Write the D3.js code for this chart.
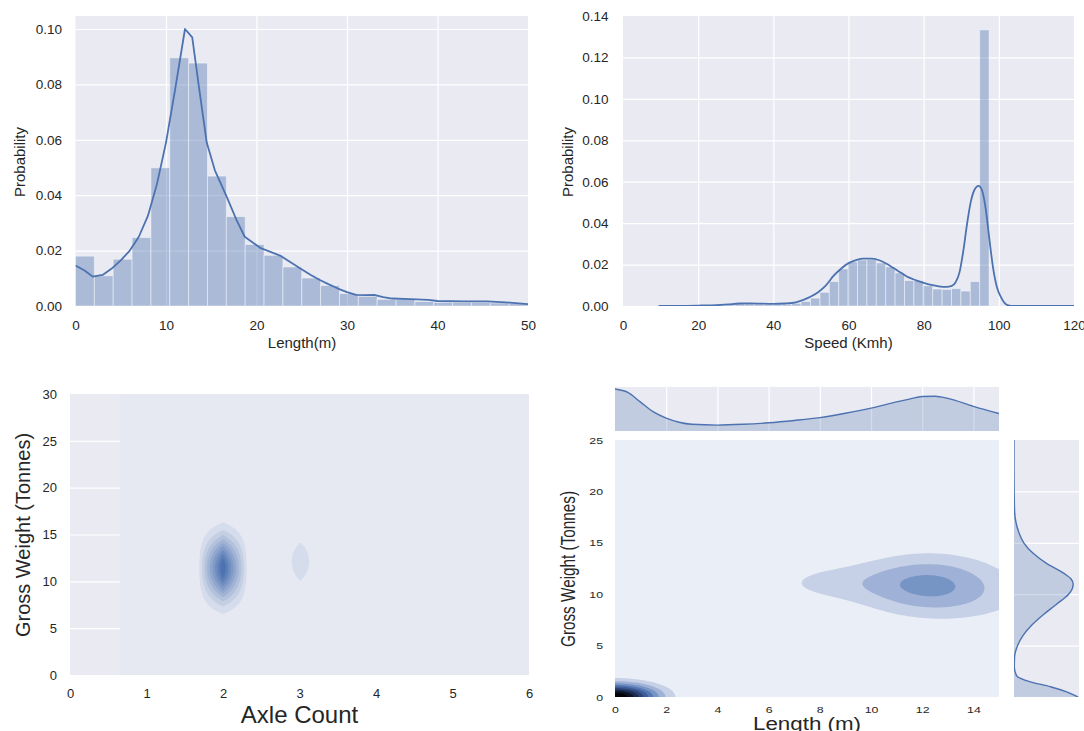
<!DOCTYPE html>
<html>
<head>
<meta charset="utf-8">
<script src="https://cdn.jsdelivr.net/npm/d3@7"></script>
<style>
  body { margin: 0; background: #fff; }
  svg { display: block; }
</style>
</head>
<body>
<script>
// ---------------- data ----------------
// Vehicle length histogram: 24 equal bins over 0..50 m (probability density)
const lengthBinWidth = 50 / 24;
const lengthHist = [0.0180, 0.0109, 0.0169, 0.0247, 0.0499, 0.0896, 0.0877, 0.0469,
  0.0323, 0.0222, 0.0183, 0.0141, 0.0101, 0.0074, 0.0045, 0.0035, 0.0024, 0.0024,
  0.0016, 0.0013, 0.0013, 0.0013, 0.0011, 0.0010];
// Kernel density estimate of length: [m, density]
const lengthKde = [[0, 0.0146], [1, 0.0128], [1.9, 0.0106], [3, 0.0112], [4, 0.0135], [5, 0.0165],
  [6, 0.0200], [7, 0.0250], [8, 0.0325], [9, 0.0440], [10, 0.0590], [11, 0.0780], [12.1, 0.1000],
  [12.9, 0.0970], [13.6, 0.0800], [14.5, 0.0590], [15.4, 0.0490], [16.7, 0.0395], [17.8, 0.0310],
  [18.7, 0.0250], [20.4, 0.0210], [22.6, 0.0182], [24.8, 0.0136], [26, 0.0112], [27, 0.0094],
  [28, 0.0078], [29, 0.0063], [30, 0.0050], [31, 0.0040], [32, 0.0039], [33, 0.0040], [34, 0.0032],
  [35, 0.0027], [37, 0.0025], [39, 0.0022], [40, 0.0018], [43, 0.0017], [45.5, 0.0017],
  [48, 0.0012], [50, 0.0007]];
const lengthTicksX = [0, 10, 20, 30, 40, 50];
const lengthTicksY = [0, 0.02, 0.04, 0.06, 0.08, 0.10];

// Speed histogram: 35 bins of 2.5 km/h starting at 9.9 km/h
const speedBinStart = 9.9;
const speedBinWidth = 2.5;
const speedHist = [0.0001, 0.0000, 0.0001, 0.0001, 0.0001, 0.0002, 0.0003, 0.0006, 0.0010,
  0.0011, 0.0009, 0.0007, 0.0007, 0.0009, 0.0013, 0.0022, 0.0038, 0.0066, 0.0118, 0.0179,
  0.0213, 0.0222, 0.0224, 0.0208, 0.0189, 0.0160, 0.0123, 0.0123, 0.0098, 0.0082, 0.0080,
  0.0084, 0.0072, 0.0118, 0.1333];
// Kernel density estimate of speed: [km/h, density]
const speedKde = [[9.5, 0.0001], [15, 0.0001], [20, 0.0002], [25, 0.0004], [28, 0.0008],
  [31, 0.0012], [34, 0.0013], [37, 0.0011], [40, 0.0010], [43, 0.0012], [46, 0.0018], [48, 0.0030],
  [50, 0.0046], [52, 0.0068], [54, 0.0100], [56, 0.0145], [58, 0.0180], [60, 0.0207], [62, 0.0222],
  [64, 0.0229], [66, 0.0229], [68, 0.0222], [70, 0.0205], [72, 0.0183], [74, 0.0160], [76, 0.0138],
  [78, 0.0124], [80, 0.0112], [82, 0.0102], [84, 0.0095], [86, 0.0092], [87.5, 0.0097],
  [88.5, 0.0115], [89.5, 0.0160], [90.5, 0.0260], [91.5, 0.0390], [92.5, 0.0500], [93.5, 0.0560],
  [94.6, 0.0580], [95.5, 0.0560], [96.5, 0.0470], [97.5, 0.0320], [98.5, 0.0180], [99.5, 0.0090],
  [100.5, 0.0045], [101.5, 0.0015], [102.5, 0.0003], [104, 0], [120, 0]];
const speedTicksX = [0, 20, 40, 60, 80, 100, 120];
const speedTicksY = [0, 0.02, 0.04, 0.06, 0.08, 0.10, 0.12, 0.14];

// Axle count vs gross weight: density peaks (axles, tonnes, spread, relative height)
const axlePeaks = [
  { axles: 2.0, tonnes: 11.4, sdAxles: 0.12, sdTonnes: 2.28, height: 1.00 },
  { axles: 3.0, tonnes: 12.1, sdAxles: 0.12, sdTonnes: 2.30, height: 0.15 }
];
const axleTicksX = [0, 1, 2, 3, 4, 5, 6];
const axleTicksY = [0, 5, 10, 15, 20, 25, 30];

// Length vs gross weight: density peaks (m, tonnes, spread, relative height)
const jointPeaks = [
  { len: 0.0, tonnes: 0.0, sdLen: 1.10, sdTonnes: 0.86, height: 1.00 },
  { len: 12.2, tonnes: 11.2, sdLen: 1.80, sdTonnes: 1.90, height: 0.265 },
  { len: 8.4, tonnes: 11.1, sdLen: 1.90, sdTonnes: 1.40, height: 0.11 },
  { len: 14.5, tonnes: 9.8, sdLen: 2.20, sdTonnes: 2.20, height: 0.07 },
  { len: 12.3, tonnes: 9.3, sdLen: 1.80, sdTonnes: 1.50, height: 0.05 }
];
// Marginal densities
const jointLengthKde = [[0, 0.163], [0.5, 0.150], [1, 0.112], [1.5, 0.074], [2, 0.050], [2.5, 0.034],
  [3, 0.026], [4, 0.023], [5, 0.026], [6, 0.032], [7, 0.041], [8, 0.052], [9, 0.069], [10, 0.089],
  [11, 0.113], [11.5, 0.124], [12, 0.134], [12.5, 0.135], [13, 0.127], [14, 0.096], [15, 0.068]];
const jointWeightKde = [[0, 0.197], [0.5, 0.162], [1, 0.112], [1.5, 0.048], [2, 0.010], [2.5, 0.003],
  [3, 0.001], [4, 0.002], [5, 0.011], [6, 0.028], [7, 0.055], [8, 0.090], [9, 0.130], [10, 0.168],
  [10.5, 0.179], [11, 0.182], [11.5, 0.175], [12, 0.155], [13, 0.100], [14, 0.058], [15, 0.030],
  [16, 0.015], [17, 0.006], [18, 0.002], [20, 0.0005], [22, 0], [25, 0]];
const jointTicksX = [0, 2, 4, 6, 8, 10, 12, 14];
const jointTicksY = [0, 5, 10, 15, 20, 25];

// ---------------- style ----------------
const FONT = '"Liberation Sans", Arial, sans-serif';
const INK = "#262626";
const BG = "#eaeaf2";
const BLUE = "#4c72b0";
const axleColors = d3.range(10).map(k => d3.interpolateRgb("#e6e9f2", "#4c72b0")(k / 9));
const jointColors = ["#eaeef6", "#c6d0e6", "#9fb1d6", "#7694c4", "#5676b3", "#3d5c98",
  "#2b4475", "#1b2c4f", "#0d1629", "#020408"];

const svg = d3.select("body").append("svg")
  .attr("width", 1084).attr("height", 731)
  .style("font-family", FONT);
const defs = svg.append("defs");
let clipCount = 0;

function frame(x, y, fill = BG) {
  const [x0, x1] = x.range(), [y0, y1] = y.range();
  return svg.append("rect").attr("x", x0).attr("y", y1)
    .attr("width", x1 - x0).attr("height", y0 - y1).attr("fill", fill);
}
function clipFor(x, y) {
  const id = "clip" + (clipCount++);
  const [x0, x1] = x.range(), [y0, y1] = y.range();
  defs.append("clipPath").attr("id", id).append("rect")
    .attr("x", x0).attr("y", y1).attr("width", x1 - x0).attr("height", y0 - y1);
  return `url(#${id})`;
}
function grid(x, y, xv, yv, parent = svg) {
  const g = parent.append("g");
  const h = y.range()[0] - y.range()[1], w = x.range()[1] - x.range()[0];
  if (xv) g.append("g").attr("transform", `translate(0,${y.range()[0]})`)
    .call(d3.axisBottom(x).tickValues(xv).tickSize(-h).tickFormat(""));
  if (yv) g.append("g").attr("transform", `translate(${x.range()[0]},0)`)
    .call(d3.axisLeft(y).tickValues(yv).tickSize(-w).tickFormat(""));
  g.selectAll(".domain").remove();
  g.selectAll("line").attr("stroke", "#fff").attr("stroke-width", 1.2);
  return g;
}
function tickLabels(x, y, xv, yv, fmtX, fmtY, size, padX, padY, stretch = 1) {
  const gx = svg.append("g").attr("transform", `translate(0,${y.range()[0]})`)
    .call(d3.axisBottom(x).tickValues(xv).tickFormat(fmtX).tickSize(0).tickPadding(padX));
  const gy = svg.append("g").attr("transform", `translate(${x.range()[0]},0)`)
    .call(d3.axisLeft(y).tickValues(yv).tickFormat(fmtY).tickSize(0).tickPadding(padY / stretch));
  for (const g of [gx, gy]) {
    g.select(".domain").remove();
    g.attr("font-size", size).attr("font-family", FONT);
    g.selectAll("text").attr("fill", INK);
    if (stretch !== 1) g.selectAll("text").attr("transform", `scale(${stretch},1)`);
  }
}
function xLabel(text, cx, baseline, size, len) {
  const t = svg.append("text").attr("x", cx).attr("y", baseline)
    .attr("text-anchor", "middle").attr("font-size", size).attr("fill", INK).text(text);
  if (len) t.attr("textLength", len).attr("lengthAdjust", "spacingAndGlyphs");
}
function yLabel(text, cx, cy, size, len) {
  const t = svg.append("text").attr("transform", `translate(${cx},${cy}) rotate(-90)`)
    .attr("text-anchor", "middle").attr("dy", "0.35em")
    .attr("font-size", size).attr("fill", INK).text(text);
  if (len) t.attr("textLength", len).attr("lengthAdjust", "spacingAndGlyphs");
}
function histogram(x, y, start, width, heights) {
  svg.append("g").selectAll("rect").data(heights).join("rect")
    .attr("x", (d, i) => x(start + i * width))
    .attr("width", (d, i) => x(start + (i + 1) * width) - x(start + i * width))
    .attr("y", d => y(d))
    .attr("height", d => y(0) - y(d))
    .attr("fill", BLUE).attr("fill-opacity", 0.4)
    .attr("stroke", "#fff").attr("stroke-opacity", 0.45).attr("stroke-width", 1);
}
function kdeLine(x, y, pts, clip, width = 1.8, curve = d3.curveMonotoneX) {
  svg.append("path").datum(pts)
    .attr("d", d3.line().x(d => x(d[0])).y(d => y(d[1])).curve(curve))
    .attr("fill", "none").attr("stroke", BLUE).attr("stroke-width", width)
    .attr("stroke-linejoin", "round")
    .attr("clip-path", clip);
}
// Filled density contours on a regular grid; colors[0] is the base fill
function filledDensity(x, y, peaks, g, colors, clip, key) {
  const values = new Array(g.nx * g.ny);
  for (let j = 0; j < g.ny; j++) {
    for (let i = 0; i < g.nx; i++) {
      const px = g.x0 + i * g.dx, py = g.y0 + j * g.dy;
      let v = 0;
      for (const p of peaks) {
        const a = (px - p[key.x]) / p[key.sx], b = (py - p[key.y]) / p[key.sy];
        v += p.height * Math.exp(-0.5 * (a * a + b * b));
      }
      values[j * g.nx + i] = v;
    }
  }
  const max = d3.max(values);
  const n = colors.length;
  const thresholds = d3.range(1, n).map(k => k * max / n);
  const bands = d3.contours().size([g.nx, g.ny]).thresholds(thresholds)(values);
  const proj = d3.geoTransform({
    point(cx, cy) { this.stream.point(x(g.x0 + (cx - 0.5) * g.dx), y(g.y0 + (cy - 0.5) * g.dy)); }
  });
  const path = d3.geoPath(proj);
  svg.append("g").attr("clip-path", clip).selectAll("path").data(bands).join("path")
    .attr("d", path).attr("fill", (d, i) => colors[i + 1]);
}

// ---------------- panel 1: length distribution ----------------
{
  const x = d3.scaleLinear([0, 50], [75.5, 528]);
  const y = d3.scaleLinear([0, 0.1047], [306, 16]);
  frame(x, y);
  grid(x, y, lengthTicksX.slice(1, -1), lengthTicksY.slice(1));
  histogram(x, y, 0, lengthBinWidth, lengthHist);
  kdeLine(x, y, lengthKde, clipFor(x, y), 1.8, d3.curveLinear);
  tickLabels(x, y, lengthTicksX, lengthTicksY, d3.format("d"), d3.format(".2f"), 13.5, 14, 13.5);
  xLabel("Length(m)", 302, 348, 15);
  yLabel("Probability", 20, 162, 15);
}

// ---------------- panel 2: speed distribution ----------------
{
  const x = d3.scaleLinear([0, 120], [623, 1074]);
  const y = d3.scaleLinear([0, 0.14], [306, 16]);
  frame(x, y);
  grid(x, y, speedTicksX.slice(1, -1), speedTicksY.slice(1, -1));
  histogram(x, y, speedBinStart, speedBinWidth, speedHist);
  kdeLine(x, y, speedKde, clipFor(x, y));
  tickLabels(x, y, speedTicksX, speedTicksY, d3.format("d"), d3.format(".2f"), 13.5, 14, 14.5);
  xLabel("Speed (Kmh)", 848.5, 348, 15);
  yLabel("Probability", 568, 162, 15);
}

// ---------------- panel 3: axle count vs gross weight ----------------
{
  const x = d3.scaleLinear([0, 6], [70, 529]);
  const y = d3.scaleLinear([0, 30], [675, 394]);
  frame(x, y);
  grid(x, y, null, axleTicksY.slice(1, -1));
  const gridSpec = { x0: 0.65, dx: 0.3375, nx: 18, y0: 0, dy: 0.25, ny: 121 };
  // base level of the density covers the evaluated grid
  svg.append("rect").attr("x", x(gridSpec.x0)).attr("y", y(30))
    .attr("width", x(6) - x(gridSpec.x0)).attr("height", y(0) - y(30))
    .attr("fill", axleColors[0]);
  filledDensity(x, y, axlePeaks, gridSpec, axleColors, clipFor(x, y),
    { x: "axles", y: "tonnes", sx: "sdAxles", sy: "sdTonnes" });
  tickLabels(x, y, axleTicksX, axleTicksY, d3.format("d"), d3.format("d"), 13, 13.8, 13);
  xLabel("Axle Count", 299.5, 723, 24);
  yLabel("Gross Weight (Tonnes)", 22.5, 535, 20);
}

// ---------------- panel 4: length vs gross weight with marginals ----------------
{
  const x = d3.scaleLinear([0, 15], [615, 999]);
  const y = d3.scaleLinear([0, 25], [697, 440]);
  frame(x, y, jointColors[0]);
  filledDensity(x, y, jointPeaks, { x0: 0, dx: 0.1, nx: 152, y0: 0, dy: 0.1, ny: 252 },
    jointColors, clipFor(x, y), { x: "len", y: "tonnes", sx: "sdLen", sy: "sdTonnes" });
  tickLabels(x, y, jointTicksX, jointTicksY, d3.format("d"), d3.format("d"), 9.5, 9.5, 12, 1.3);
  xLabel("Length (m)", 807, 730, 18, 108);
  yLabel("Gross Weight (Tonnes)", 568, 569, 21, 156);

  // top marginal: length density
  const my = d3.scaleLinear([0, 0.171], [431, 387]);
  frame(x, my);
  grid(x, my, jointTicksX.slice(1), null);
  svg.append("path").datum(jointLengthKde)
    .attr("d", d3.area().x(d => x(d[0])).y0(my(0)).y1(d => my(d[1])).curve(d3.curveMonotoneX))
    .attr("fill", BLUE).attr("fill-opacity", 0.25);
  kdeLine(x, my, jointLengthKde, clipFor(x, my), 1.4);

  // right marginal: weight density
  const mx = d3.scaleLinear([0, 0.2], [1014, 1079]);
  frame(mx, y);
  grid(mx, y, null, jointTicksY.slice(1, -1));
  const rclip = clipFor(mx, y);
  svg.append("path").datum(jointWeightKde)
    .attr("d", d3.area().y(d => y(d[0])).x0(mx(0)).x1(d => mx(d[1])).curve(d3.curveMonotoneY))
    .attr("fill", BLUE).attr("fill-opacity", 0.25).attr("clip-path", rclip);
  svg.append("path").datum(jointWeightKde)
    .attr("d", d3.line().y(d => y(d[0])).x(d => mx(d[1])).curve(d3.curveMonotoneY))
    .attr("fill", "none").attr("stroke", BLUE).attr("stroke-width", 1.4).attr("clip-path", rclip);
}
</script>
</body>
</html>
